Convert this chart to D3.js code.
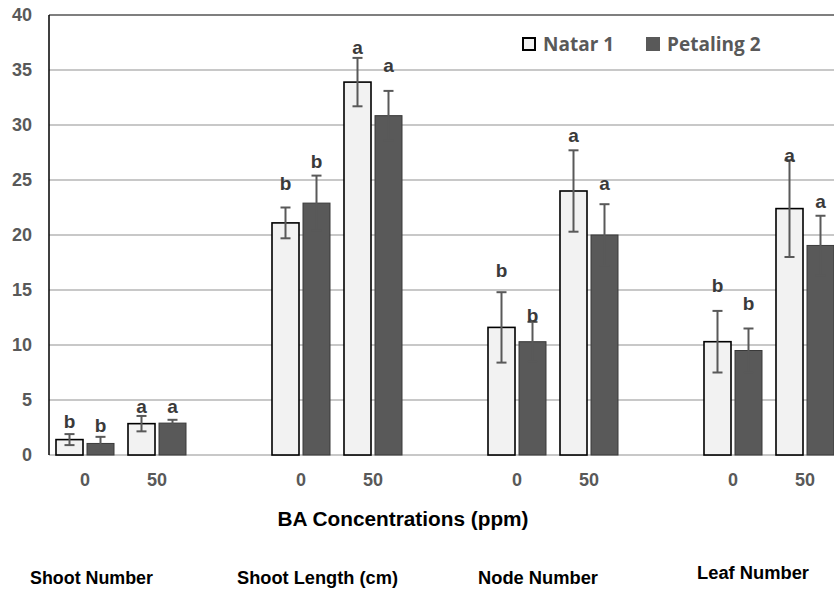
<!DOCTYPE html>
<html>
<head>
<meta charset="utf-8">
<script src="https://cdn.jsdelivr.net/npm/d3@7"></script>
<style>
  html, body { margin: 0; padding: 0; background: #fff; }
  svg { display: block; font-family: "Liberation Sans", Arial, sans-serif; }
</style>
</head>
<body>
<div id="chart"></div>
<script>
// measured variables
var groups = ["Shoot Number", "Shoot Length (cm)", "Node Number", "Leaf Number"];
var concentrations = ["0", "50"];
var series = ["Natar 1", "Petaling 2"];

// one value per group x concentration, in order
var natarMean = [1.4, 2.85, 21.1, 33.9, 11.6, 24.0, 10.3, 22.4];
var natarErr = [0.5, 0.7, 1.4, 2.2, 3.2, 3.7, 2.8, 4.4];
var petalingMean = [1.05, 2.9, 22.9, 30.85, 10.3, 20.0, 9.5, 19.05];
var petalingErr = [0.6, 0.3, 2.5, 2.25, 1.8, 2.8, 2.0, 2.7];

// significance letters and the value level they sit at
var natarLetters = ["b", "a", "b", "a", "b", "a", "b", "a"];
var petalingLetters = ["b", "a", "b", "a", "b", "a", "b", "a"];
var natarLetterAt = [3.1, 4.45, 24.75, 37.1, 16.8, 29.1, 15.4, 27.3];
var petalingLetterAt = [2.7, 4.45, 26.7, 35.45, 12.7, 24.7, 13.8, 23.1];

var yTicks = [0, 5, 10, 15, 20, 25, 30, 35, 40];

var width = 834, height = 591;
var margin = { top: 15, left: 49 };
var plotBottom = 455;

var svg = d3.select("#chart")
  .append("svg")
    .attr("width", width)
    .attr("height", height);

// 3 slots per group: "0", "50", and an empty spacer
var slots = [];
groups.forEach(function(g, gi) {
    concentrations.forEach(function(c) { slots.push(gi + "|" + c); });
    slots.push(gi + "|gap");
});

var x = d3.scaleBand()
    .domain(slots)
    .range([margin.left, margin.left + slots.length * 72]);

var xs = d3.scaleBand()
    .domain(series)
    .range([0, 58])
    .paddingInner(4 / 31);

var y = d3.scaleLinear()
    .domain([0, 40])
    .range([plotBottom, margin.top]);

// gridlines
svg.append("g")
  .selectAll("line")
  .data(yTicks)
  .enter()
    .append("line")
      .attr("x1", margin.left)
      .attr("x2", width)
      .attr("y1", function(d) { return y(d); })
      .attr("y2", function(d) { return y(d); })
      .attr("stroke", function(d) { return d === 40 ? "#7f7f7f" : "#c8c8c8"; })
      .attr("stroke-width", 2);

// left axis line
svg.append("line")
    .attr("x1", margin.left).attr("x2", margin.left)
    .attr("y1", y(40)).attr("y2", y(0))
    .attr("stroke", "#000")
    .attr("stroke-width", 1.5);

// y tick labels
svg.append("g")
  .selectAll("text")
  .data(yTicks)
  .enter()
    .append("text")
      .attr("x", 32)
      .attr("y", function(d) { return y(d); })
      .attr("dy", "0.36em")
      .attr("text-anchor", "end")
      .attr("font-size", 18)
      .attr("font-weight", "bold")
      .attr("fill", "#595959")
      .text(function(d) { return d; });

// build bar records
var bars = [];
groups.forEach(function(g, gi) {
    concentrations.forEach(function(c, ci) {
        var i = gi * 2 + ci;
        bars.push({ slot: gi + "|" + c, s: series[0], v: natarMean[i], e: natarErr[i], l: natarLetters[i], la: natarLetterAt[i] });
        bars.push({ slot: gi + "|" + c, s: series[1], v: petalingMean[i], e: petalingErr[i], l: petalingLetters[i], la: petalingLetterAt[i] });
    });
});

var offset = (x.bandwidth() - 58) / 2;
function cx(d) { return x(d.slot) + offset + xs(d.s) + xs.bandwidth() / 2; }

svg.append("g")
  .selectAll("rect")
  .data(bars)
  .enter()
    .append("rect")
      .attr("x", function(d) { return x(d.slot) + offset + xs(d.s); })
      .attr("y", function(d) { return y(d.v); })
      .attr("width", xs.bandwidth())
      .attr("height", function(d) { return y(0) - y(d.v); })
      .attr("fill", function(d) { return d.s === series[0] ? "#f2f2f2" : "#595959"; })
      .attr("stroke", function(d) { return d.s === series[0] ? "#000" : "#3a3a3a"; })
      .attr("stroke-width", function(d) { return d.s === series[0] ? 1.6 : 1; });

// error bars
var err = svg.append("g")
    .attr("stroke", "#595959")
    .attr("stroke-width", 2);

err.selectAll(".stem")
  .data(bars)
  .enter()
    .append("line")
      .attr("x1", cx).attr("x2", cx)
      .attr("y1", function(d) { return y(d.v + d.e); })
      .attr("y2", function(d) { return y(d.v - d.e); });

err.selectAll(".capTop")
  .data(bars)
  .enter()
    .append("line")
      .attr("x1", function(d) { return cx(d) - 5; })
      .attr("x2", function(d) { return cx(d) + 5; })
      .attr("y1", function(d) { return y(d.v + d.e); })
      .attr("y2", function(d) { return y(d.v + d.e); });

err.selectAll(".capBottom")
  .data(bars)
  .enter()
    .append("line")
      .attr("x1", function(d) { return cx(d) - 5; })
      .attr("x2", function(d) { return cx(d) + 5; })
      .attr("y1", function(d) { return y(d.v - d.e); })
      .attr("y2", function(d) { return y(d.v - d.e); });

// letters
svg.append("g")
  .selectAll("text")
  .data(bars)
  .enter()
    .append("text")
      .attr("x", cx)
      .attr("y", function(d) { return y(d.la); })
      .attr("dy", "0.36em")
      .attr("text-anchor", "middle")
      .attr("font-size", 19)
      .attr("font-weight", "bold")
      .attr("fill", "#3a3a3a")
      .text(function(d) { return d.l; });

// x tick labels
svg.append("g")
  .selectAll("text")
  .data(slots.filter(function(s) { return s.indexOf("gap") < 0; }))
  .enter()
    .append("text")
      .attr("x", function(d) { return x(d) + x.bandwidth() / 2; })
      .attr("y", 480)
      .attr("dy", "0.36em")
      .attr("text-anchor", "middle")
      .attr("font-size", 18)
      .attr("font-weight", "bold")
      .attr("fill", "#595959")
      .text(function(d) { return d.split("|")[1]; });

// axis title
svg.append("text")
    .attr("x", 403)
    .attr("y", 519)
    .attr("dy", "0.36em")
    .attr("text-anchor", "middle")
    .attr("font-size", 20)
    .attr("font-weight", "bold")
    .attr("fill", "#000")
    .attr("textLength", 251)
    .attr("lengthAdjust", "spacingAndGlyphs")
    .text("BA Concentrations (ppm)");

// group names under the chart (hand-placed text boxes in the original)
var nameShift = [6.5, 16.5, 21, 20];
var nameWidth = [123, 161, 120, 112];
svg.append("g")
  .selectAll("text")
  .data(groups)
  .enter()
    .append("text")
      .attr("x", function(d, i) { return x(i + "|0") + x.bandwidth() / 2 + nameShift[i]; })
      .attr("y", function(d, i) { return i === 3 ? 573 : 578; })
      .attr("dy", "0.36em")
      .attr("text-anchor", "middle")
      .attr("font-size", 18)
      .attr("font-weight", "bold")
      .attr("fill", "#000")
      .attr("textLength", function(d, i) { return nameWidth[i]; })
      .attr("lengthAdjust", "spacingAndGlyphs")
      .text(function(d) { return d; });

// legend
var legend = svg.append("g");
var legendX = [522, 646];
series.forEach(function(s, i) {
    legend.append("rect")
        .attr("x", legendX[i] + (i === 0 ? 1 : 0))
        .attr("y", 37 + (i === 0 ? 1 : 0))
        .attr("width", i === 0 ? 12 : 14)
        .attr("height", i === 0 ? 12 : 14)
        .attr("fill", i === 0 ? "#f2f2f2" : "#595959")
        .attr("stroke", i === 0 ? "#000" : "none")
        .attr("stroke-width", 2);
    legend.append("text")
        .attr("x", legendX[i] + 21)
        .attr("y", 44)
        .attr("dy", "0.36em")
        .attr("font-size", 19)
        .attr("font-weight", "bold")
        .attr("font-family", "'Open Sans', 'Liberation Sans', sans-serif")
        .attr("fill", "#595959")
        .text(s);
});
</script>
</body>
</html>
